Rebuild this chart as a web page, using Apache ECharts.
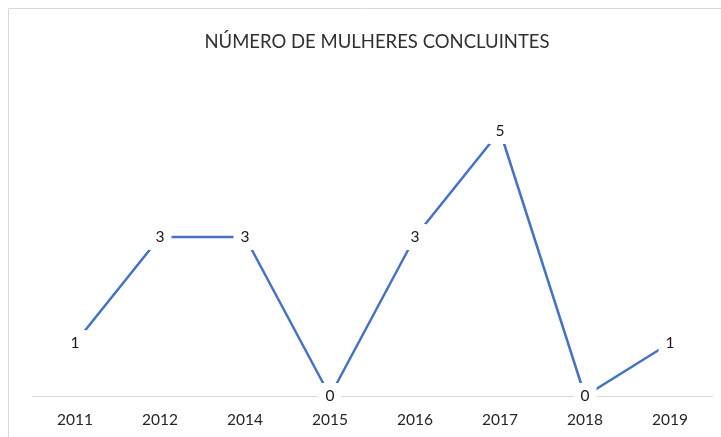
<!DOCTYPE html>
<html>
<head>
<meta charset="utf-8">
<script src="https://cdn.jsdelivr.net/npm/echarts@6/dist/echarts.min.js"></script>
<style>html,body{margin:0;padding:0;background:#fff}#c{width:721px;height:437px}</style>
</head>
<body>
<div id="c"></div>
<script>
const titleText = 'NÚMERO DE MULHERES CONCLUINTES';
const categories = ['2011', '2012', '2014', '2015', '2016', '2017', '2018', '2019'];
const values = [1, 3, 3, 0, 3, 5, 0, 1];

const chart = echarts.init(document.getElementById('c'));
chart.setOption({
  animation: false,
  backgroundColor: '#fff',
  graphic: [{
    type: 'rect',
    shape: { x: 8.5, y: 8.5, width: 740, height: 450 },
    style: { fill: 'none', stroke: '#d9d9d9', lineWidth: 1 },
    silent: true
  }],
  title: {
    text: titleText,
    left: 372, textAlign: 'center', top: 28,
    textStyle: { fontFamily: 'Lato', fontWeight: 'normal', fontSize: 18.5, color: '#303030' }
  },
  grid: { left: 32.5, right: 8.5, top: 78, bottom: 41 },
  xAxis: {
    type: 'category',
    data: categories,
    boundaryGap: true,
    axisLine: { lineStyle: { color: '#d9d9d9', width: 1 } },
    axisTick: { show: false },
    axisLabel: { color: '#262626', fontFamily: 'Lato', fontSize: 15.5, margin: 16 }
  },
  yAxis: {
    type: 'value', min: 0, max: 6, interval: 1,
    show: false,
    splitLine: { show: false }
  },
  series: [{
    type: 'line',
    data: values,
    symbol: 'circle',
    symbolSize: 0,
    showSymbol: true,
    lineStyle: { color: '#4472C4', width: 2.5 },
    itemStyle: { color: '#4472C4' },
    label: {
      show: true,
      position: 'inside',
      color: '#1a1a1a',
      fontFamily: 'Lato',
      fontSize: 15.5,
      backgroundColor: '#fff',
      padding: [5, 7]
    }
  }]
});
</script>
</body>
</html>
